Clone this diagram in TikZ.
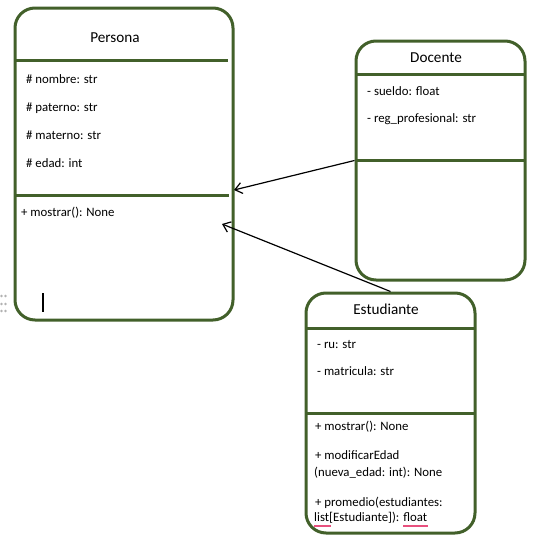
\documentclass[tikz,border=0pt]{standalone}
\usepackage{fontspec}
\setmainfont{Carlito}
\usetikzlibrary{arrows.meta}
\definecolor{umlgreen}{HTML}{42602A}
\definecolor{spellred}{HTML}{E8507E}
\tikzset{
  classbox/.style={draw=umlgreen,line width=3pt,rounded corners=20pt,inner sep=0pt},
  divider/.style={umlgreen,line width=3pt},
  ctitle/.style={anchor=base,inner sep=0pt,font=\fontsize{15.2}{17}\selectfont},
  member/.style={anchor=base west,inner sep=0pt,font=\fontsize{12.8}{15}\selectfont},
  inherit/.style={black,line width=1.2pt,-{Straight Barb[length=7pt,width=11pt]}},
}
\begin{document}
\begin{tikzpicture}[x=1pt,y=-1pt]
		\useasboundingbox (0,0) rectangle (550,546);
		%
		\node[classbox,minimum width=218pt,minimum height=312pt] (persona) at (124,164) {};
		\node[classbox,minimum width=169pt,minimum height=239pt] (docente) at (440.5,160.5) {};
		\node[classbox,minimum width=169pt,minimum height=240pt] (estudiante) at (390.5,413) {};
		\draw[divider]  (16,60) -- (228,60);
		\draw[divider]  (16,195) -- (229,195);
		\draw[divider]  (356,74) -- (525,74);
		\draw[divider]  (356,160) -- (525,160);
		\draw[divider]  (306,328) -- (475,328);
		\draw[divider]  (306,413) -- (475,413);
		%
		\node[ctitle] (tpersona) at (115,42) {Persona};
		\node[member] (anombre) at (26,83) {\# nombre: str};
		\node[member] (apaterno) at (26,111) {\# paterno: str};
		\node[member] (amaterno) at (26,139) {\# materno: str};
		\node[member] (aedad) at (26,167) {\# edad: int};
		\node[member] (mmostrar) at (21,216) {+ mostrar(): None};
		%
		\node[ctitle] (tdocente) at (436,63) {Docente};
		\node[member] (asueldo) at (367,95) {- sueldo: float};
		\node[member] (areg) at (367,122) {- reg\_profesional: str};
		%
		\node[ctitle] (testudiante) at (386,314) {Estudiante};
		\node[member] (aru) at (317,348) {- ru: str};
		\node[member] (amatricula) at (317,375) {- matricula: str};
		\node[member] (emostrar) at (315,430) {+ mostrar(): None};
		\node[member] (emodificar) at (315,459) {+ modificarEdad};
		\node[member] (emodificarb) at (314,476) {(nueva\_edad: int): None};
		\node[member] (epromedio) at (315,506) {+ promedio(estudiantes:};
		\node[member] (epromediob) at (314,521) {list[Estudiante]): float};
		\draw[spellred,line width=1.3pt]  (314,526) -- (331,526);  % spell marks
		\draw[spellred,line width=1.3pt]  (403,526) -- (428,526);
		%
		\coordinate (pmetodos) at (234,190);
		\coordinate (pinterior) at (222,224);
		\draw[inherit]  (docente.west) -- (pmetodos);
		\draw[inherit]  (estudiante.north) -- (pinterior);
		%
		\draw[black,line width=1.6pt]  (43,293) -- (43,312);  % text cursor
		\foreach \dx in {1.5,5.5} \foreach \dy in {296,304,311}
		  \fill[gray!60] (\dx,\dy) circle (1.3pt);
		\end{tikzpicture}
\end{document}
